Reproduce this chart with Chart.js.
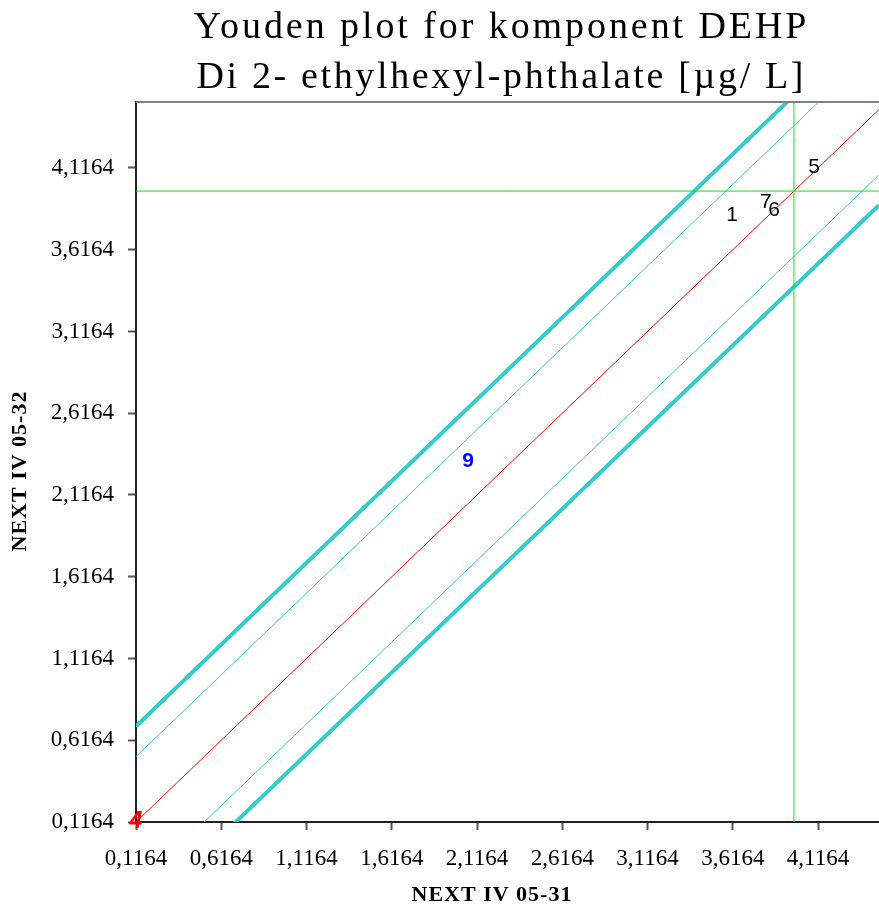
<!DOCTYPE html>
<html>
<head>
<meta charset="utf-8">
<script src="https://cdn.jsdelivr.net/npm/chart.js@4.4.1/dist/chart.umd.min.js"></script>
<style>
    html, body { margin: 0; padding: 0; background: #ffffff; }
    #wrap { width: 879px; height: 912px; position: relative; }
</style>
</head>
<body>
<div id="wrap"><canvas id="youden"></canvas></div>
<script>
// Youden plot data
const labIds = ['1', '4', '5', '6', '7', '9'];
const resultsX = [3.612, 0.1164, 4.093, 3.858, 3.811, 2.064];   // NEXT IV 05-31
const resultsY = [3.829, 0.1164, 4.122, 3.860, 3.909, 2.324];   // NEXT IV 05-32

// assigned values and the limit offsets around the y = x line
const assignedX = 3.975;
const assignedY = 3.975;
const limitOffsets = [0.40, 0.585];   // inner (thin), outer (thick)

// axis ranges and tick values
const xRange = [0.1164, 4.474];
const yRange = [0.1164, 4.52];
const xTicks = [0.1164, 0.6164, 1.1164, 1.6164, 2.1164, 2.6164, 3.1164, 3.6164, 4.1164];
const yTicks = [0.1164, 0.6164, 1.1164, 1.6164, 2.1164, 2.6164, 3.1164, 3.6164, 4.1164];

const titleLines = ['Youden plot for komponent DEHP', 'Di 2- ethylhexyl-phthalate [\u00b5g/ L]'];
const xTitle = 'NEXT IV 05-31';
const yTitle = 'NEXT IV 05-32';

// colours
const CYAN = '#33CCCC';
const RED = '#FF0000';
const GREEN = '#00EE00';
const SERIF = "'Liberation Serif', 'Times New Roman', serif";
const SANS = "'Liberation Sans', Arial, sans-serif";

// label styles for special labs
const labelStyle = {
    '9': { color: '#0000FF', font: 'bold 21px ' + SANS },
    '4': { color: '#FF0000', font: 'italic bold 23px ' + SANS }
};

const fmt = v => v.toFixed(4).replace('.', ',');

// a line parallel to y = x through the assigned point, shifted by d
function diagonal(d) {
    const shift = assignedY - assignedX + d;
    return [
        { x: xRange[0], y: xRange[0] + shift },
        { x: xRange[1], y: xRange[1] + shift }
    ];
}

function refLine(data, color, width) {
    return {
        data: data,
        showLine: true,
        borderColor: color,
        borderWidth: width,
        pointRadius: 0,
        pointHoverRadius: 0,
        fill: false
    };
}

const datasets = [
    refLine([{ x: assignedX, y: yRange[0] }, { x: assignedX, y: yRange[1] }], GREEN, 1),
    refLine([{ x: xRange[0], y: assignedY }, { x: xRange[1], y: assignedY }], GREEN, 1),
    refLine(diagonal(limitOffsets[1]), CYAN, 4),
    refLine(diagonal(limitOffsets[0]), CYAN, 1),
    refLine(diagonal(0), RED, 1),
    refLine(diagonal(-limitOffsets[0]), CYAN, 1),
    refLine(diagonal(-limitOffsets[1]), CYAN, 4),
    {
        data: resultsX.map((x, i) => ({ x: x, y: resultsY[i] })),
        pointRadius: 0,
        pointHoverRadius: 0,
        showLine: false
    }
];
const LAB_DATASET = datasets.length - 1;

// titles, top border and lab number labels
const decorPlugin = {
    id: 'decor',
    afterDatasetsDraw(chart) {
        const ctx = chart.ctx;
        const area = chart.chartArea;

        // grey top border of plot area
        ctx.save();
        ctx.strokeStyle = '#808080';
        ctx.lineWidth = 2;
        ctx.beginPath();
        ctx.moveTo(area.left, area.top);
        ctx.lineTo(area.right, area.top);
        ctx.stroke();
        ctx.restore();

        // lab numbers drawn at the points
        const meta = chart.getDatasetMeta(LAB_DATASET);
        ctx.save();
        ctx.textAlign = 'center';
        ctx.textBaseline = 'middle';
        meta.data.forEach((pt, i) => {
            const st = labelStyle[labIds[i]] || { color: '#000000', font: '21px ' + SANS };
            ctx.fillStyle = st.color;
            ctx.font = st.font;
            ctx.fillText(labIds[i], pt.x, pt.y);
        });
        ctx.restore();
    },
    afterDraw(chart) {
        const ctx = chart.ctx;
        ctx.save();
        ctx.fillStyle = '#000000';
        ctx.textAlign = 'center';
        ctx.textBaseline = 'alphabetic';

        // chart title, spread out like the original
        ctx.font = '38px ' + SERIF;
        const targets = [613, 607];
        titleLines.forEach((line, i) => {
            ctx.letterSpacing = '0px';
            const w = ctx.measureText(line).width;
            const sp = (targets[i] - w) / (line.length - 1);
            ctx.letterSpacing = sp + 'px';
            ctx.fillText(line, 500 + sp / 2, 38 + i * 50);
        });
        ctx.letterSpacing = '0px';

        // axis titles
        ctx.font = 'bold 22px ' + SERIF;
        ctx.letterSpacing = '1px';
        ctx.textBaseline = 'middle';
        ctx.fillText(xTitle, 492, 895);
        ctx.translate(20, 471);
        ctx.rotate(-Math.PI / 2);
        ctx.fillText(yTitle, 0, 0);
        ctx.restore();
    }
};

const axisBase = {
    type: 'linear',
    grid: {
        drawOnChartArea: false,
        drawTicks: true,
        tickLength: 8,
        tickWidth: 2,
        color: '#555555'
    },
    border: { display: true, color: '#222222', width: 2 },
    ticks: {
        autoSkip: false,
        maxRotation: 0,
        color: '#000000',
        font: { family: SERIF, size: 23 },
        callback: v => fmt(v)
    }
};

new Chart(document.getElementById('youden'), {
    type: 'scatter',
    data: { datasets: datasets },
    options: {
        responsive: true,
        maintainAspectRatio: false,
        animation: false,
        events: [],
        layout: { padding: { top: 102, right: 0, left: 0, bottom: 0 } },
        plugins: {
            legend: { display: false },
            tooltip: { enabled: false },
            title: { display: false }
        },
        scales: {
            x: {
                ...axisBase,
                min: xRange[0],
                max: xRange[1],
                ticks: { ...axisBase.ticks, padding: 15 },
                afterBuildTicks: scale => { scale.ticks = xTicks.map(v => ({ value: v })); },
                afterFit: scale => { scale.height = 90; }
            },
            y: {
                ...axisBase,
                min: yRange[0],
                max: yRange[1],
                ticks: { ...axisBase.ticks, padding: 14 },
                afterBuildTicks: scale => { scale.ticks = yTicks.map(v => ({ value: v })); },
                afterFit: scale => { scale.width = 136; }
            }
        }
    },
    plugins: [decorPlugin]
});
</script>
</body>
</html>
